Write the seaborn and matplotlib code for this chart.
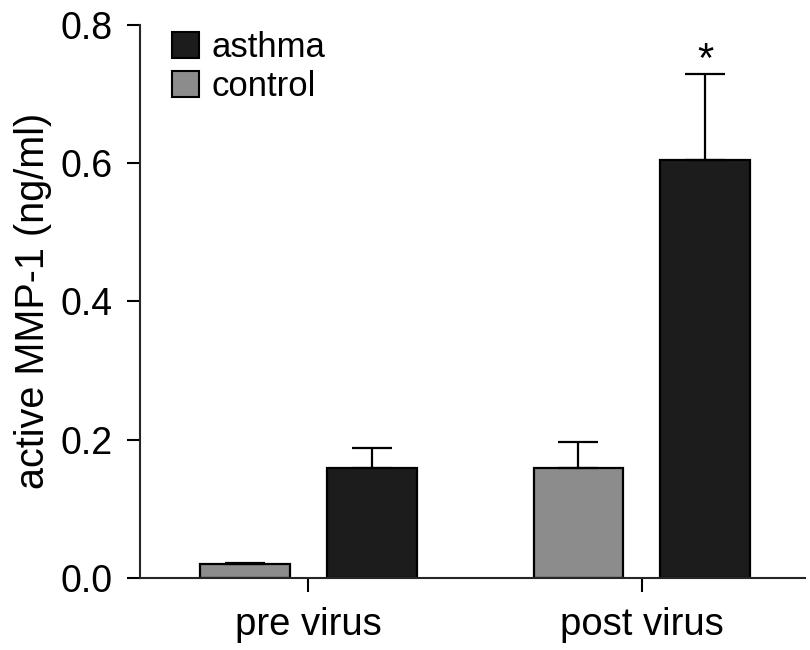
import pandas as pd
import matplotlib.pyplot as plt
import seaborn as sns
from matplotlib.patches import Patch

# %% Data.
conditions = ['pre virus', 'post virus']
groups = ['control', 'asthma']
control_mean = [0.020, 0.159]
control_err = [0.002, 0.038]
asthma_mean = [0.159, 0.605]
asthma_err = [0.029, 0.123]

df = pd.DataFrame({
    'condition': conditions * 2,
    'group': ['control'] * 2 + ['asthma'] * 2,
    'value': control_mean + asthma_mean,
    'err': control_err + asthma_err,
})

colors = {'control': '#8c8c8c', 'asthma': '#1c1c1c'}

sns.set_style('ticks')
plt.rcParams['font.family'] = ['Liberation Sans', 'DejaVu Sans']
plt.rcParams['text.color'] = 'black'
plt.rcParams['xtick.color'] = 'black'
plt.rcParams['ytick.color'] = 'black'
plt.rcParams['axes.labelcolor'] = 'black'

# %% Draw.
fig = plt.figure(figsize=(8.1, 6.5), dpi=100)
ax = fig.add_axes([0.173, 0.111, 0.821, 0.851])
sns.barplot(data=df, x='condition', y='value', hue='group', order=conditions,
            hue_order=groups, palette=colors, errorbar=None, width=0.76, gap=0.29,
            edgecolor='black', linewidth=1.6, ax=ax, legend=False)

# error bars (upper only), matched to bar centres
for bars, g in zip(ax.containers, groups):
    sub = df[df['group'] == g].set_index('condition').loc[conditions]
    xs = [b.get_x() + b.get_width() / 2 for b in bars]
    ax.errorbar(xs, sub['value'], yerr=[[0] * len(xs), sub['err']], fmt='none',
                ecolor='black', elinewidth=1.6, capsize=14.5, capthick=1.6, zorder=1)

# significance star above post virus asthma
post_asthma = ax.containers[1][1]
ax.text(post_asthma.get_x() + post_asthma.get_width() / 2, 0.748, '*',
        ha='center', va='center', fontsize=30)

ax.set_ylim(0, 0.8)
ax.set_xlim(-0.505, 1.49)
ax.set_yticks([0.0, 0.2, 0.4, 0.6, 0.8])
ax.set_yticklabels(['0.0', '0.2', '0.4', '0.6', '0.8'])
ax.set_xlabel('')
ax.set_ylabel('active MMP-1 (ng/ml)', fontsize=28.5, labelpad=6)
ax.tick_params(axis='y', labelsize=27, length=9.5, width=1.5, pad=10.5)
ax.tick_params(axis='x', labelsize=27.5, length=10, width=1.5, pad=11)
sns.despine(ax=ax)
for s in ['left', 'bottom']:
    ax.spines[s].set_linewidth(1.5)

handles = [Patch(facecolor=colors['asthma'], edgecolor='black', linewidth=1.5, label='asthma'),
           Patch(facecolor=colors['control'], edgecolor='black', linewidth=1.5, label='control')]
ax.legend(handles=handles, loc='upper left', bbox_to_anchor=(0.048, 0.989), frameon=False,
          fontsize=25, handlelength=0.78, handleheight=0.78, handletextpad=0.37,
          labelspacing=0.18, borderaxespad=0, borderpad=0)

fig.savefig('out.png', dpi=100)
